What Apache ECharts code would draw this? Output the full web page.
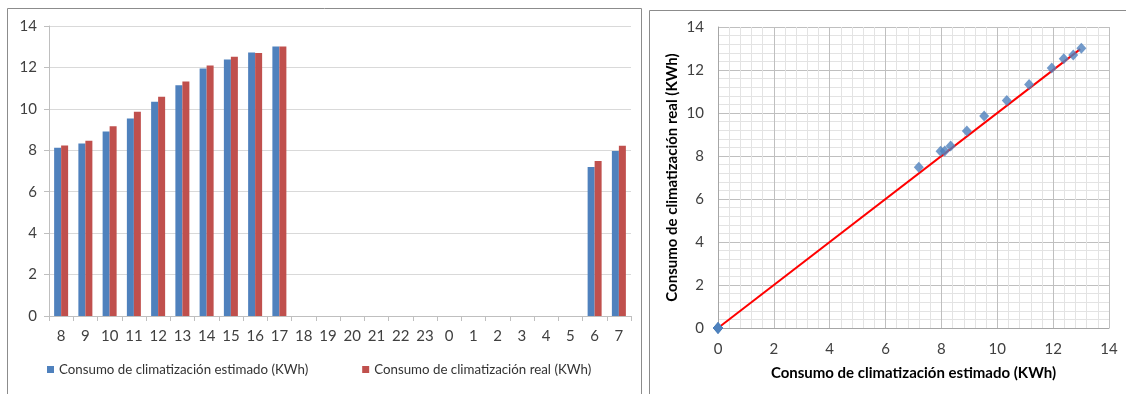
<!DOCTYPE html>
<html>
<head>
<meta charset="utf-8">
<script src="https://cdn.jsdelivr.net/npm/echarts@6/dist/echarts.min.js"></script>
<style>
html,body{margin:0;padding:0;background:#fff;}
#c{width:1126px;height:394px;}
</style>
</head>
<body>
<div id="c"></div>
<script>
const hours = ['8','9','10','11','12','13','14','15','16','17','18','19','20','21','22','23','0','1','2','3','4','5','6','7'];
const estimado = [8.12,8.33,8.91,9.53,10.34,11.14,11.95,12.38,12.72,13.01,0,0,0,0,0,0,0,0,0,0,0,0,7.19,7.97];
const real = [8.23,8.46,9.16,9.86,10.58,11.32,12.09,12.52,12.70,13.01,0,0,0,0,0,0,0,0,0,0,0,0,7.48,8.22];
const nameEst = 'Consumo de climatización estimado (KWh)';
const nameReal = 'Consumo de climatización real (KWh)';
const fitLine = [[0,0],[12.97,12.97]];

const scatterData = estimado.map((v,i)=>[v, real[i]]);
const FONT = 'Lato';
const chart = echarts.init(document.getElementById('c'), null, {renderer:'canvas'});
chart.setOption({
  animation:false,
  textStyle:{fontFamily:FONT},
  graphic:[
    {type:'rect', shape:{x:7.5,y:8.5,width:634,height:420}, style:{fill:'none',stroke:'#8c8c8c',lineWidth:1}, silent:true},
    {type:'rect', shape:{x:649.5,y:10.5,width:520,height:420}, style:{fill:'none',stroke:'#8c8c8c',lineWidth:1}, silent:true}
  ],
  legend:{
    data:[nameEst,nameReal], left:42, top:358, itemWidth:7, itemHeight:7, itemGap:54, icon:'rect',
    textStyle:{fontFamily:FONT,fontSize:13.3,color:'#333'}, itemStyle:{borderWidth:0}
  },
  grid:[
    {left:49, top:26, width:582, height:290},
    {left:718, top:27, width:391, height:301}
  ],
  xAxis:[
    {type:'category', gridIndex:0, data:hours, boundaryGap:true,
     axisLine:{lineStyle:{color:'#bfbfbf'}}, axisTick:{show:true,length:5,lineStyle:{color:'#bfbfbf'}},
     axisLabel:{color:'#404040',fontSize:15,margin:13,fontFamily:FONT,interval:0}},
    {type:'value', gridIndex:1, min:0, max:14, interval:2,
     name:nameEst, nameLocation:'middle', nameGap:38,
     nameTextStyle:{fontWeight:'bold',fontSize:15,color:'#000',fontFamily:FONT},
     axisLine:{show:true,onZero:false,lineStyle:{color:'#a6a6a6'}}, axisTick:{show:false},
     axisLabel:{color:'#404040',fontSize:15,margin:14,fontFamily:FONT},
     splitLine:{show:true,lineStyle:{color:'#bfbfbf'}},
     minorTick:{show:false,splitNumber:5}, minorSplitLine:{show:true,lineStyle:{color:'#e3e3e3'}}}
  ],
  yAxis:[
    {type:'value', gridIndex:0, min:0, max:14, interval:2,
     axisLine:{show:true,lineStyle:{color:'#bfbfbf'}}, axisTick:{show:true,length:5,lineStyle:{color:'#bfbfbf'}},
     axisLabel:{color:'#404040',fontSize:15,margin:12,fontFamily:FONT},
     splitLine:{show:true,lineStyle:{color:'#d9d9d9'}}},
    {type:'value', gridIndex:1, min:0, max:14, interval:2,
     name:nameReal, nameLocation:'middle', nameGap:38, nameRotate:90,
     nameTextStyle:{fontWeight:'bold',fontSize:15,color:'#000',fontFamily:FONT},
     axisLine:{show:true,onZero:false,lineStyle:{color:'#a6a6a6'}}, axisTick:{show:false},
     axisLabel:{color:'#404040',fontSize:15,margin:14,fontFamily:FONT},
     splitLine:{show:true,lineStyle:{color:'#bfbfbf'}},
     minorTick:{show:false,splitNumber:5}, minorSplitLine:{show:true,lineStyle:{color:'#e3e3e3'}}}
  ],
  series:[
    {name:nameEst, type:'bar', xAxisIndex:0, yAxisIndex:0, data:estimado, barWidth:7, barGap:'0%',
     itemStyle:{color:'#4f81bd'}},
    {name:nameReal, type:'bar', xAxisIndex:0, yAxisIndex:0, data:real, barWidth:7, barGap:'0%',
     itemStyle:{color:'#c0504d'}},
    {name:'fit', type:'line', xAxisIndex:1, yAxisIndex:1, data:fitLine, showSymbol:false, symbol:'none',
     lineStyle:{color:'#ff0000',width:2}, z:3},
    {name:'scatter', type:'scatter', xAxisIndex:1, yAxisIndex:1, data:scatterData, symbol:'diamond', symbolSize:[10,11],
     itemStyle:{color:'#4f81bd'}, z:4}
  ]
});
</script>
</body>
</html>
